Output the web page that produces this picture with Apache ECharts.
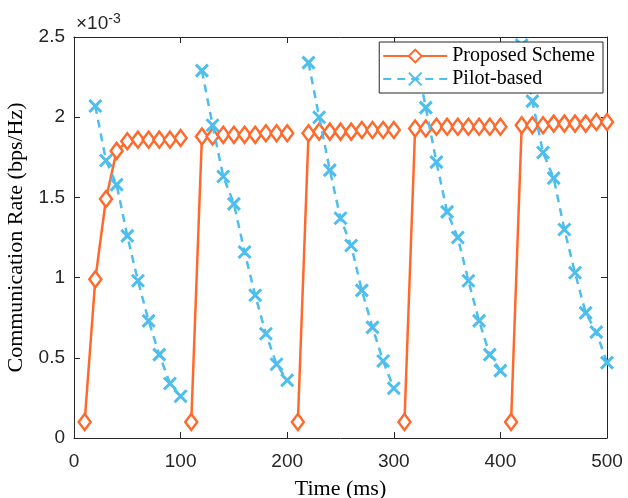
<!DOCTYPE html>
<html>
<head>
<meta charset="utf-8">
<script src="https://cdn.jsdelivr.net/npm/echarts@6/dist/echarts.min.js"></script>
<style>html,body{margin:0;padding:0;background:#fff;}#c{width:628px;height:498px;}</style>
</head>
<body>
<div id="c"></div>
<script>
// Time axis (ms) for each segment of Proposed Scheme
const proposedX = [
  [10,20,30,40,50,60,70,80,90,100],
  [110,120,130,140,150,160,170,180,190,200],
  [210,220,230,240,250,260,270,280,290,300],
  [310,320,330,340,350,360,370,380,390,400],
  [410,420,430,440,450,460,470,480,490,500]
];
// Proposed Scheme rate (x10^-3 bps/Hz)
const proposedSeg1 = [0.10,0.99,1.49,1.79,1.85,1.86,1.86,1.86,1.86,1.87];
const proposedSeg2 = [0.10,1.88,1.88,1.89,1.89,1.89,1.89,1.90,1.90,1.90];
const proposedSeg3 = [0.10,1.90,1.91,1.91,1.91,1.91,1.92,1.92,1.92,1.92];
const proposedSeg4 = [0.10,1.93,1.93,1.94,1.94,1.94,1.94,1.94,1.94,1.94];
const proposedSeg5 = [0.10,1.95,1.95,1.95,1.96,1.96,1.96,1.96,1.97,1.97];

// Pilot-based time axis (ms)
const pilotX = [
  [20,30,40,50,60,70,80,90,100],
  [120,130,140,150,160,170,180,190,200],
  [220,230,240,250,260,270,280,290,300],
  [320,330,340,350,360,370,380,390,400],
  [420,430,440,450,460,470,480,490,500]
];
const pilotSeg1 = [2.07,1.73,1.58,1.26,0.98,0.73,0.52,0.34,0.26];
const pilotSeg2 = [2.29,1.95,1.63,1.46,1.16,0.89,0.65,0.46,0.36];
const pilotSeg3 = [2.34,2.00,1.67,1.37,1.20,0.92,0.69,0.48,0.31];
const pilotSeg4 = [2.40,2.06,1.72,1.41,1.25,0.98,0.73,0.52,0.42];
const pilotSeg5 = [2.45,2.10,1.78,1.62,1.30,1.03,0.78,0.66,0.47];

const xTicks = [0,100,200,300,400,500];
const yTicks = [0,0.5,1,1.5,2,2.5];

function build(xs, ys) {
  const out = [];
  xs.forEach((seg, i) => {
    seg.forEach((x, j) => out.push([x, ys[i][j]]));
    if (i < xs.length - 1) out.push([seg[seg.length - 1] + 5, '-']);
  });
  return out;
}
const proposedData = build(proposedX, [proposedSeg1,proposedSeg2,proposedSeg3,proposedSeg4,proposedSeg5]);
const pilotData = build(pilotX, [pilotSeg1,pilotSeg2,pilotSeg3,pilotSeg4,pilotSeg5]);

const ORANGE = '#FF6A2C';
const BLUE = '#4DBEEE';
const SANS = 'Liberation Sans, Arial, sans-serif';
const SERIF = 'Liberation Serif, Times New Roman, serif';
const tickFont = {fontFamily: SANS, fontSize: 19, color: '#262626'};

const chart = echarts.init(document.getElementById('c'), null, {renderer: 'canvas'});
const axisLineStyle = {color: '#262626', width: 1};
chart.setOption({
  animation: false,
  backgroundColor: '#fff',
  grid: {left: 74, right: 21, top: 37, bottom: 60, containLabel: false, outerBoundsMode: 'none'},
  xAxis: [{
    type: 'value', min: 0, max: 500, interval: 100,
    axisLine: {show: true, onZero: false, lineStyle: axisLineStyle},
    axisTick: {show: true, inside: true, length: 6, lineStyle: axisLineStyle},
    axisLabel: Object.assign({margin: 14, formatter: v => xTicks.includes(v) ? String(v) : ''}, tickFont),
    splitLine: {show: false},
    name: 'Time (ms)', nameLocation: 'middle', nameGap: 40,
    nameTextStyle: {fontFamily: SERIF, fontSize: 22, color: '#000'}
  }, {
    type: 'value', min: 0, max: 500, interval: 100, position: 'top',
    axisLine: {show: true, onZero: false, lineStyle: axisLineStyle},
    axisTick: {show: true, inside: true, length: 6, lineStyle: axisLineStyle},
    axisLabel: {show: false}, splitLine: {show: false}
  }],
  yAxis: [{
    type: 'value', min: 0, max: 2.5, interval: 0.5,
    axisLine: {show: true, onZero: false, lineStyle: axisLineStyle},
    axisTick: {show: true, inside: true, length: 6, lineStyle: axisLineStyle},
    axisLabel: Object.assign({margin: 9, formatter: v => yTicks.includes(v) ? String(v) : ''}, tickFont),
    splitLine: {show: false},
    name: 'Communication Rate (bps/Hz)', nameLocation: 'middle', nameGap: 39,
    nameTextStyle: {fontFamily: SERIF, fontSize: 22, color: '#000'}
  }, {
    type: 'value', min: 0, max: 2.5, interval: 0.5, position: 'right',
    axisLine: {show: true, onZero: false, lineStyle: axisLineStyle},
    axisTick: {show: true, inside: true, length: 6, lineStyle: axisLineStyle},
    axisLabel: {show: false}, splitLine: {show: false}
  }],
  legend: {
    orient: 'vertical', right: 25, top: 42,
    padding: [4, 8, 4, 3], itemGap: 3,
    itemWidth: 64, itemHeight: 16,
    borderColor: '#262626', borderWidth: 1, backgroundColor: '#fff',
    textStyle: {fontFamily: SERIF, fontSize: 20, color: '#000'},
    data: ['Proposed Scheme', 'Pilot-based']
  },
  graphic: [{
    type: 'text', left: 76, top: 12,
    style: {
      text: '×10{sup|-3}',
      rich: {sup: {fontSize: 14, verticalAlign: 'top', padding: [0,0,9,0], fontFamily: SANS, fill: '#262626'}},
      fontFamily: SANS, fontSize: 19, fill: '#262626'
    }
  }],
  series: [{
    name: 'Proposed Scheme', type: 'line', data: proposedData,
    connectNulls: false,
    symbol: 'diamond', symbolSize: [12, 16], showAllSymbol: true,
    lineStyle: {color: ORANGE, width: 2.5},
    itemStyle: {color: '#fff', borderColor: ORANGE, borderWidth: 2.5},
    z: 2
  }, {
    name: 'Pilot-based', type: 'line', data: pilotData,
    connectNulls: false,
    symbol: 'path://M0,0L10,10M10,0L0,10', symbolSize: 12, showAllSymbol: true,
    lineStyle: {color: BLUE, width: 2.5, type: [8, 6]},
    itemStyle: {color: 'none', borderColor: BLUE, borderWidth: 3},
    z: 3
  }]
});
</script>
</body>
</html>
